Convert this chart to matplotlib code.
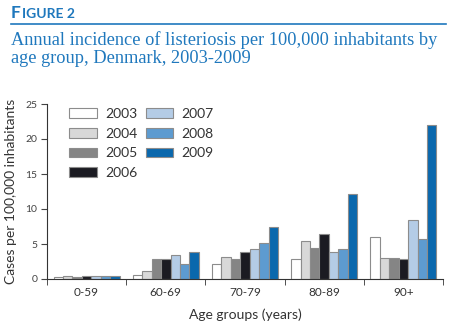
import matplotlib.pyplot as plt
import numpy as np

# Données
groupes = ['0-59', '60-69', '70-79', '80-89', '90+']
annees = ['2003', '2004', '2005', '2006', '2007', '2008', '2009']
incidence = {
    '2003': [0.3, 0.6, 2.1, 2.8, 6.0],
    '2004': [0.4, 1.2, 3.2, 5.5, 3.0],
    '2005': [0.3, 2.9, 2.9, 4.4, 3.0],
    '2006': [0.4, 2.8, 3.8, 6.4, 2.9],
    '2007': [0.4, 3.5, 4.3, 3.8, 8.5],
    '2008': [0.4, 2.1, 5.1, 4.3, 5.7],
    '2009': [0.4, 3.8, 7.4, 12.1, 22.0],
}
couleurs = ['#ffffff', '#d8d8d8', '#858585', '#1b1b22', '#b4cce6', '#5d9bd0', '#0a68ad']

bleu = '#1f78bd'
plt.rcParams['font.family'] = ['Lato', 'DejaVu Sans']

fig = plt.figure(figsize=(4.71, 3.29), dpi=100)

# En-tête
fig.text(11 / 471, 1 - 18 / 329, 'F', color=bleu, fontsize=12.5, fontweight='bold', va='baseline')
fig.text(21.5 / 471, 1 - 18 / 329, 'IGURE 2', color=bleu, fontsize=10, fontweight='bold', va='baseline')
fig.add_artist(plt.Line2D([11 / 471, 446 / 471], [1 - 24 / 329, 1 - 24 / 329], color=bleu, lw=1.2))
fig.text(11 / 471, 1 - 31 / 329, 'Annual incidence of listeriosis per 100,000 inhabitants by\nage group, Denmark, 2003-2009',
         color=bleu, fontsize=13.2, family='Liberation Serif', va='top', linespacing=1.05)

ax = fig.add_axes([47 / 471, 1 - 279 / 329, 396 / 471, 175 / 329])

n = len(annees)
largeur = 0.119
x = np.arange(len(groupes))
for i, annee in enumerate(annees):
    pos = x + (i - (n - 1) / 2) * largeur
    ax.bar(pos, incidence[annee], width=largeur, color=couleurs[i], edgecolor='#8c8c8c',
           linewidth=0.8, label=annee)

ax.set_xlim(-0.5, len(groupes) - 0.5)
ax.set_ylim(0, 25)
ax.set_yticks(range(0, 26, 5))
ax.set_xticks(x)
ax.set_xticklabels(groupes)
ax.set_xticks(np.arange(-0.5, len(groupes), 1), minor=True)
ax.tick_params(axis='x', which='major', length=0, labelsize=8.5, colors='#333333', pad=6)
ax.tick_params(axis='x', which='minor', length=4, direction='out', color='#333333')
ax.tick_params(axis='y', length=4, direction='out', labelsize=7.5, colors='#444444', pad=3)
for s in ['top', 'right']:
    ax.spines[s].set_visible(False)
for s in ['left', 'bottom']:
    ax.spines[s].set_color('#333333')
    ax.spines[s].set_linewidth(0.8)

ax.set_xlabel('Age groups (years)', fontsize=10, color='#333333', labelpad=7)
ax.set_ylabel('Cases per 100,000 inhabitants', fontsize=10, color='#333333', labelpad=6)

ax.legend(ncol=2, loc='upper left', bbox_to_anchor=(0.045, 1.0), frameon=False, fontsize=10,
          handlelength=2.0, handleheight=0.7, columnspacing=0.6, labelspacing=0.55,
          handletextpad=0.6, labelcolor='#333333', borderaxespad=0, borderpad=0.3)

fig.savefig('out.png', dpi=100)
